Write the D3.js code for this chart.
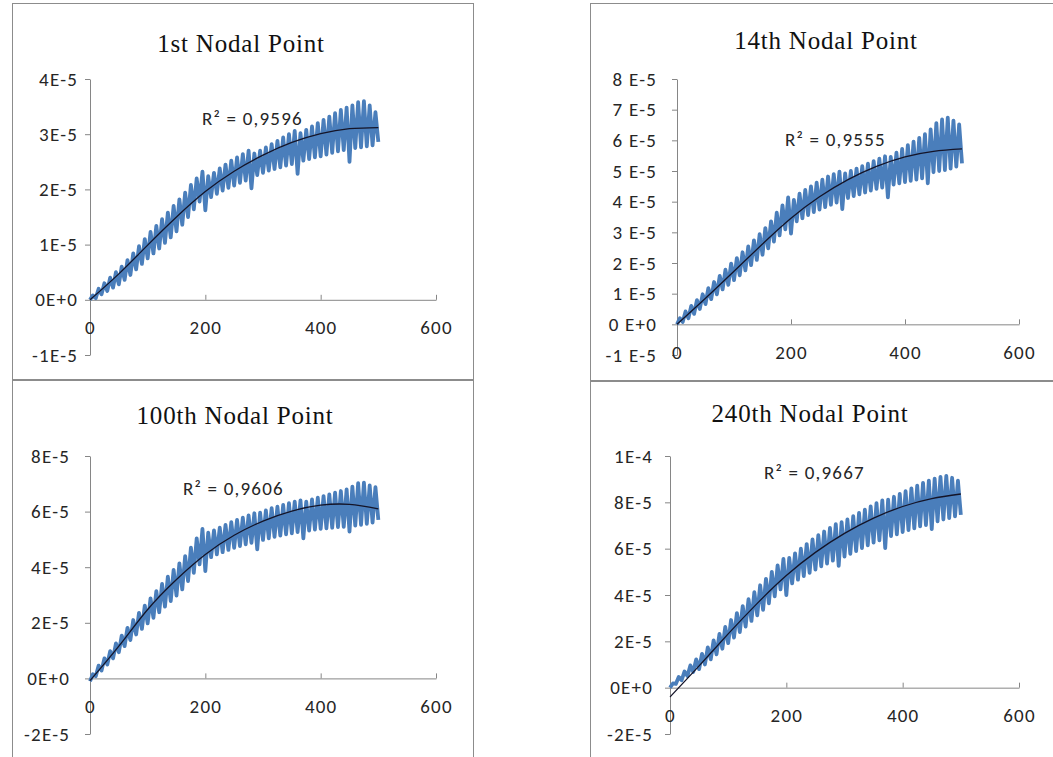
<!DOCTYPE html>
<html>
<head>
<meta charset="utf-8">
<script src="https://cdn.jsdelivr.net/npm/d3@7"></script>
<style>
body { margin: 0; background: #fff; }
.tick text { font-family: Carlito, Calibri, Lato, sans-serif; font-size: 19px; fill: #262626; letter-spacing: 1.2px; }
.title { font-family: "Liberation Serif", "Times New Roman", serif; font-size: 25px; fill: #111; letter-spacing: 0.8px; }
.r2 { font-family: Carlito, Calibri, Lato, sans-serif; font-size: 19px; fill: #262626; letter-spacing: 1.2px; }
</style>
</head>
<body>
<svg id="main" width="1053" height="757"></svg>
<script>
// values in units of 1E-6; troughs at x = 0,10,...,500, peaks at x = 5,15,...,495
var xTickValues = [0, 200, 400, 600];
var xTickLabels = ["0", "200", "400", "600"];
var trendX = [0, 50, 100, 150, 200, 250, 300, 350, 400, 450, 500];

var titles = ["1st Nodal Point", "14th Nodal Point", "100th Nodal Point", "240th Nodal Point"];
var r2Labels = ["R\u00B2 = 0,9596", "R\u00B2 = 0,9555", "R\u00B2 = 0,9606", "R\u00B2 = 0,9667"];

var yTicks1 = [-10, 0, 10, 20, 30, 40];
var yLabels1 = ["-1E-5", "0E+0", "1E-5", "2E-5", "3E-5", "4E-5"];
var yTicks2 = [-10, 0, 10, 20, 30, 40, 50, 60, 70, 80];
var yLabels2 = ["-1 E-5", "0 E+0", "1 E-5", "2 E-5", "3 E-5", "4 E-5", "5 E-5", "6 E-5", "7 E-5", "8 E-5"];
var yTicks3 = [-20, 0, 20, 40, 60, 80];
var yLabels3 = ["-2E-5", "0E+0", "2E-5", "4E-5", "6E-5", "8E-5"];
var yTicks4 = [-20, 0, 20, 40, 60, 80, 100];
var yLabels4 = ["-2E-5", "0E+0", "2E-5", "4E-5", "6E-5", "8E-5", "1E-4"];

var lo1 = [0.0,0.3,1.0,1.6,2.2,2.8,3.6,4.5,5.5,6.5, 7.5,8.4,9.3,10.3,11.3,12.4,13.6,15.0,16.4,17.8, 16.2,18.6,19.2,19.8,20.3,20.7,21.2,21.6,20.2,22.6, 23.0,23.4,23.7,24.0,24.3,24.6,22.8,25.2,25.5,25.8, 26.0,26.3,26.6,26.9,27.1,25.0,27.5,27.6,27.8,28.0, 28.6];
var hi1 = [0.8,2.0,3.0,4.0,5.0,6.0,7.2,8.4,9.7,11.0, 12.3,13.4,14.6,15.8,17.0,18.2,19.4,20.8,22.0,23.2, 22.4,23.0,23.8,24.5,25.2,25.8,26.4,27.0,26.5,27.0, 27.6,28.2,28.8,29.4,30.0,30.6,30.2,30.8,31.4,32.0, 32.6,33.2,33.8,34.4,34.8,35.2,35.8,36.0,35.2,34.0];
var trend1 = [0, 4.7, 9.9, 15.0, 19.6, 23.3, 26.2, 28.5, 30.1, 31.0, 31.2];

var lo2 = [0.0,0.8,2.0,3.4,5.0,6.6,8.2,9.8,11.4,12.9, 14.4,16.0,17.6,19.3,21.0,22.7,24.8,27.0,29.0,31.0, 29.6,33.6,34.6,35.6,36.6,37.4,38.2,39.0,39.7,37.6, 41.2,41.8,42.4,43.0,43.6,44.2,44.6,41.4,45.6,46.0, 46.4,46.8,47.2,47.6,46.0,49.6,50.0,50.3,50.8,51.4, 52.5];
var hi2 = [2.0,4.2,6.0,7.9,9.8,11.8,13.8,15.8,17.8,19.8, 21.6,23.5,25.4,27.4,29.4,31.4,33.6,36.4,38.8,41.4, 40.6,42.6,43.8,45.0,46.2,47.2,48.2,49.0,49.8,49.2, 50.0,50.8,51.6,52.4,53.2,54.0,54.8,54.6,56.0,57.2, 58.4,59.6,60.8,62.0,63.6,65.6,66.8,67.4,66.4,65.2];
var trend2 = [0, 8.5, 17.3, 26.2, 34.6, 41.6, 47.2, 51.5, 54.6, 56.4, 57.2];

var lo3 = [-1.0,0.8,2.8,5.0,7.2,9.4,11.6,13.8,15.8,17.8, 19.8,21.8,23.8,25.8,27.8,29.8,32.0,35.0,38.0,41.0, 38.6,43.6,44.6,45.4,46.2,47.0,47.6,48.2,48.8,46.4, 49.8,50.4,50.9,51.4,51.8,52.2,52.6,50.4,53.2,53.5, 53.8,54.0,54.2,54.4,54.5,52.8,55.0,55.2,55.6,56.0, 57.0];
var hi3 = [1.5,4.6,7.2,9.8,12.6,15.4,18.2,21.0,23.6,26.2, 28.8,31.4,34.0,36.6,39.0,41.4,44.0,47.0,50.4,53.8, 52.4,53.2,54.2,55.2,56.2,57.0,57.8,58.6,59.4,59.6, 60.4,61.2,61.8,62.4,63.0,63.6,64.0,63.6,64.4,65.0, 65.6,66.2,66.8,67.4,68.0,69.0,70.2,70.4,69.4,68.8];
var trend3 = [-0.8, 11.6, 24.8, 35.6, 44.6, 51.5, 56.6, 60.2, 62.3, 62.6, 61.0];

var lo4 = [0.0,1.6,3.2,5.0,6.8,8.0,10.0,12.2,14.4,16.8, 19.2,21.6,24.0,26.4,28.8,31.2,33.6,36.4,39.4,42.4, 40.0,45.0,46.6,48.2,49.6,51.0,52.4,53.6,54.8,52.6, 56.6,57.8,59.0,60.2,61.4,62.6,63.6,60.2,65.4,66.2, 67.2,68.0,68.8,69.6,70.2,68.4,71.8,72.6,73.2,74.0, 74.6];
var hi4 = [1.8,4.6,7.0,9.6,12.2,14.6,17.4,20.4,23.2,26.2, 29.2,32.2,35.2,38.2,41.2,44.2,47.0,50.0,52.8,55.6, 56.0,58.0,60.0,62.0,64.0,65.8,67.4,69.0,70.6,71.4, 72.6,74.0,75.4,76.8,78.2,79.6,80.8,81.2,82.4,83.6, 84.8,86.0,87.2,88.4,89.4,90.2,91.0,91.4,90.6,89.4];
var trend4 = [-4.0, 9.4, 23.2, 36.4, 48.4, 58.4, 66.6, 73.2, 78.2, 81.6, 83.6];

// layout of the four panels
var panels = [
	{frame: [12.5, 3.5, 461, 376], xr: [90, 436], yr: [355, 79], yd: [-10, 40], pad: 7, tx: 241, ty: 52, rx: 202, ry: 125},
	{frame: [590.5, 3.5, 470, 377], xr: [677, 1019], yr: [355, 79], yd: [-10, 80], pad: 15, tx: 826, ty: 49, rx: 785, ry: 146},
	{frame: [12.5, 380.5, 461, 380], xr: [90, 436], yr: [734, 456], yd: [-20, 80], pad: 15, tx: 235, ty: 424, rx: 183, ry: 495},
	{frame: [590.5, 381.5, 470, 380], xr: [670, 1019], yr: [734, 456], yd: [-20, 100], pad: 12, tx: 810, ty: 422, rx: 764, ry: 479}
];
var series = [
	{lo: lo1, hi: hi1, trend: trend1, yt: yTicks1, yl: yLabels1},
	{lo: lo2, hi: hi2, trend: trend2, yt: yTicks2, yl: yLabels2},
	{lo: lo3, hi: hi3, trend: trend3, yt: yTicks3, yl: yLabels3},
	{lo: lo4, hi: hi4, trend: trend4, yt: yTicks4, yl: yLabels4}
];

var svg = d3.select("#main");
svg.append("rect").attr("width", 1053).attr("height", 757).attr("fill", "#fff");

function zigzag(lo, hi) {
	var pts = [];
	lo.forEach(function(v, i) {
		pts.push([i * 10, v]);
		if (i < hi.length) pts.push([i * 10 + 5, hi[i]]);
	});
	return pts;
}

panels.forEach(function(p, i) {
	var s = series[i];
	var g = svg.append("g");
	g.append("rect").attr("x", p.frame[0]).attr("y", p.frame[1]).attr("width", p.frame[2]).attr("height", p.frame[3])
		.attr("fill", "#fff").attr("stroke", "#8c8c8c").attr("stroke-width", 1);

	var x = d3.scaleLinear().domain([0, 600]).range(p.xr);
	var y = d3.scaleLinear().domain(p.yd).range(p.yr);

	var yAxis = d3.axisLeft(y).tickValues(s.yt).tickFormat(function(d, j) { return s.yl[j]; })
		.tickSizeInner(5).tickSizeOuter(0).tickPadding(p.pad);
	var ya = g.append("g").attr("transform", "translate(" + p.xr[0] + ",0)").call(yAxis);

	var xAxis = d3.axisBottom(x).tickValues(xTickValues).tickFormat(function(d, j) { return xTickLabels[j]; })
		.tickSizeInner(-5).tickSizeOuter(0).tickPadding(21);
	var xa = g.append("g").attr("transform", "translate(0," + y(0) + ")").call(xAxis);

	[ya, xa].forEach(function(a) {
		a.select(".domain").attr("stroke", "#868686");
		a.selectAll(".tick line").attr("stroke", "#868686");
		a.selectAll(".tick text").attr("font-family", null).attr("font-size", null);
	});

	var line = d3.line().x(function(d) { return x(d[0]); }).y(function(d) { return y(d[1]); });
	g.append("path").datum(zigzag(s.lo, s.hi)).attr("d", line)
		.attr("fill", "none").attr("stroke", "#4A7EBB").attr("stroke-width", 3.8).attr("stroke-linejoin", "round");

	var tline = d3.line().curve(d3.curveNatural).x(function(d, j) { return x(trendX[j]); }).y(function(d) { return y(d); });
	g.append("path").datum(s.trend).attr("d", tline)
		.attr("fill", "none").attr("stroke", "#141428").attr("stroke-width", 1.3);

	g.append("text").classed("title", true).attr("x", p.tx).attr("y", p.ty).attr("text-anchor", "middle").text(titles[i]);
	g.append("text").classed("r2", true).attr("x", p.rx).attr("y", p.ry).text(r2Labels[i]);
});
</script>
</body>
</html>
